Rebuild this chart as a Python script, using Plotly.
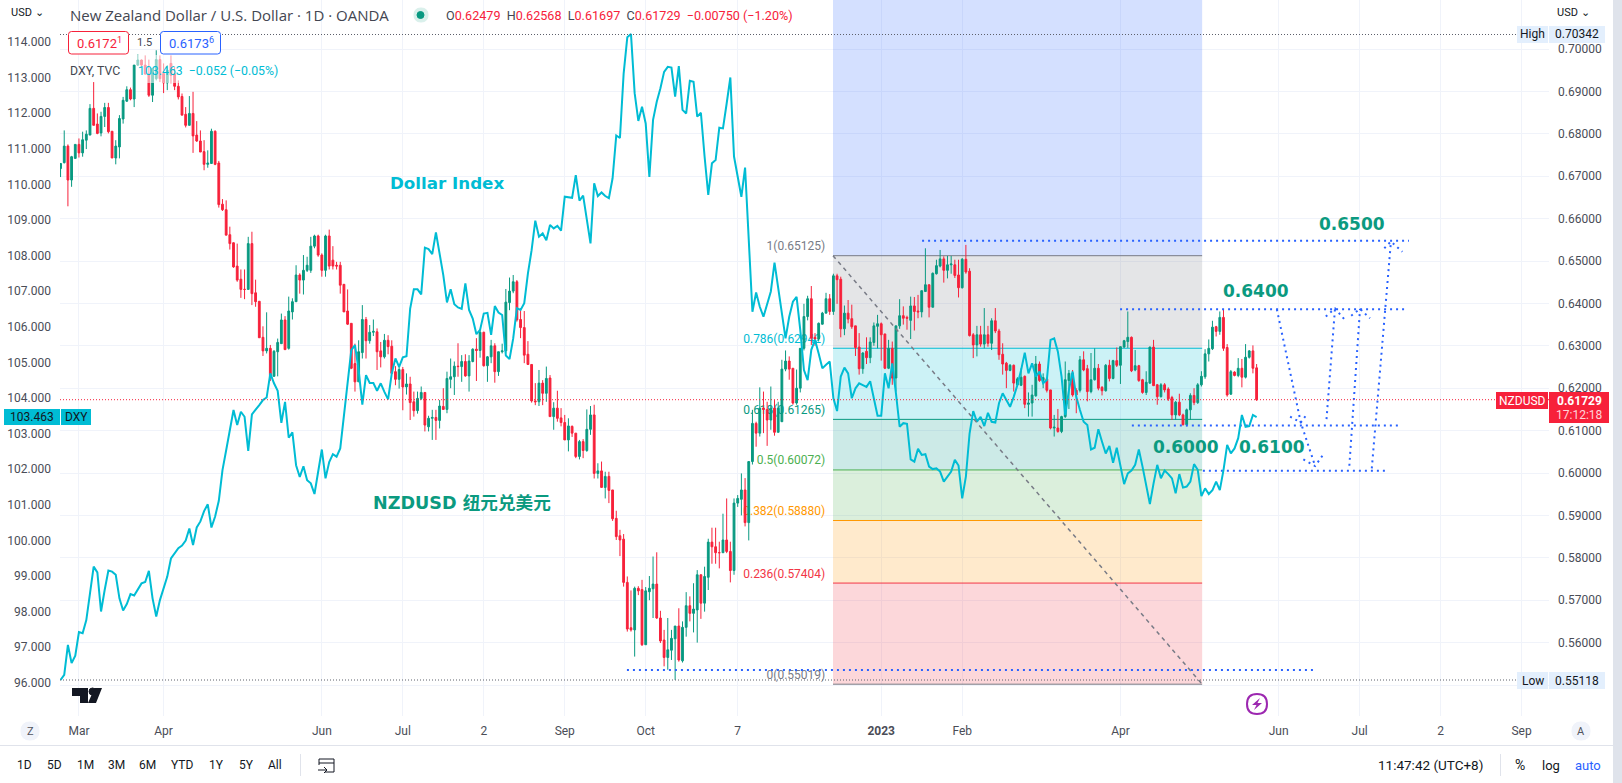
import plotly.graph_objects as go

# NZD/USD daily candles, in units of 0.0001
nzd_open = [
6718,6732,6771,6691,6742,6775,6755,6785,6797,6860, 6823,6802,6841,6862,6806,6743,6769,6835,6877,6904,
6882,6962,6974,6962,6941,6891,6930,6975,6942,6920, 6966,6941,6912,6888,6846,6820,6848,6797,6783,6758,
6728,6730,6806,6731,6634,6621,6562,6543,6488,6457, 6433,6433,6541,6425,6405,6320,6288,6294,6228,6286,
6305,6361,6294,6380,6404,6467,6455,6478,6478,6535, 6559,6514,6478,6559,6502,6490,6490,6445,6382,6353,
6258,6215,6284,6362,6312,6332,6333,6288,6274,6313, 6299,6239,6221,6244,6203,6210,6168,6147,6176,6190,
6109,6129,6131,6124,6157,6150,6221,6227,6252,6251, 6263,6229,6263,6292,6289,6332,6253,6274,6300,6239,
6286,6288,6402,6429,6451,6362,6343,6280,6256,6170, 6168,6212,6188,6224,6133,6153,6130,6119,6078,6110,
6094,6039,6074,6053,6103,6137,5999,6005,5966,5992, 5960,5893,5852,5844,5742,5635,5630,5728,5725,5595,
5720,5727,5738,5658,5606,5565,5582,5609,5639,5557, 5636,5687,5669,5677,5760,5693,5754,5837,5826,5812,
5812,5842,5815,5770,5929,5938,5960,5883,6027,6117, 6094,6153,6150,6125,6153,6096,6121,6245,6264,6247,
6165,6200,6294,6369,6411,6320,6316,6351,6377,6411, 6381,6465,6457,6340,6377,6364,6347,6297,6246,6287,
6272,6308,6346,6352,6328,6247,6294,6224,6347,6371, 6367,6360,6394,6382,6380,6428,6444,6391,6470,6488,
6505,6478,6491,6491,6467,6437,6504,6476,6326,6302, 6326,6304,6326,6306,6359,6335,6280,6259,6242,6254,
6208,6207,6228,6162,6165,6182,6257,6218,6222,6196, 6106,6106,6098,6133,6218,6235,6195,6195,6267,6246,
6192,6220,6247,6202,6194,6254,6223,6265,6254,6297, 6310,6320,6243,6253,6220,6190,6212,6297,6208,6180,
6208,6198,6178,6137,6167,6137,6114,6149,6183,6166, 6208,6227,6281,6293,6345,6334,6367,6296,6186,6238,
6230,6247,6226,6273,6288,6248]
nzd_high = [
6731,6808,6775,6748,6775,6789,6805,6808,6870,6922, 6848,6852,6873,6873,6806,6785,6844,6887,6912,6909,
6962,6987,6975,6985,6975,6954,6997,6985,6966,6962, 6985,6958,6926,6895,6863,6889,6899,6830,6808,6785,
6761,6812,6808,6736,6646,6643,6581,6544,6541,6480, 6480,6557,6569,6456,6405,6346,6379,6302,6290,6317,
6376,6370,6416,6412,6490,6471,6514,6510,6557,6562, 6562,6518,6562,6574,6535,6498,6498,6445,6433,6353,
6305,6313,6396,6368,6349,6362,6341,6309,6328,6325, 6313,6252,6252,6250,6235,6227,6192,6192,6204,6190,
6135,6149,6149,6172,6200,6239,6270,6263,6306,6278, 6280,6278,6294,6318,6340,6333,6276,6314,6306,6286,
6305,6434,6461,6467,6455,6382,6382,6311,6256,6212, 6243,6219,6251,6231,6167,6194,6153,6137,6129,6112,
6094,6078,6080,6150,6158,6161,6023,6027,6003,6003, 5960,5911,5866,5856,5756,5723,5732,5733,5748,5731,
5757,5803,5813,5675,5630,5658,5630,5639,5681,5650, 5719,5709,5740,5771,5760,5779,5845,5871,5871,5838,
5904,5940,5838,5940,5948,5999,5988,6027,6149,6121, 6202,6192,6168,6204,6172,6168,6267,6289,6275,6247,
6244,6294,6399,6418,6441,6330,6355,6380,6425,6422, 6470,6470,6463,6395,6408,6397,6347,6330,6285,6320,
6320,6355,6373,6355,6328,6314,6310,6347,6410,6393, 6371,6416,6415,6420,6430,6530,6444,6473,6503,6526,
6511,6512,6512,6503,6503,6507,6538,6483,6330,6347, 6347,6389,6347,6365,6389,6340,6306,6262,6257,6256,
6226,6247,6230,6190,6208,6276,6263,6235,6225,6196, 6137,6151,6135,6263,6243,6243,6200,6276,6287,6255,
6283,6294,6257,6205,6257,6267,6267,6296,6298,6314, 6381,6322,6290,6255,6222,6240,6298,6314,6210,6212,
6212,6202,6182,6170,6187,6140,6152,6188,6200,6212, 6240,6292,6315,6359,6347,6381,6385,6304,6243,6240,
6271,6269,6304,6290,6301,6257]
nzd_low = [
6698,6730,6629,6675,6742,6744,6746,6764,6797,6820, 6799,6794,6816,6801,6743,6728,6742,6824,6875,6879,
6863,6960,6958,6940,6887,6875,6926,6922,6896,6903, 6919,6903,6881,6844,6815,6820,6755,6781,6757,6714,
6720,6730,6726,6626,6618,6561,6527,6484,6451,6413, 6410,6433,6396,6392,6319,6276,6282,6217,6228,6228,
6305,6290,6291,6362,6404,6423,6421,6474,6472,6530, 6510,6463,6463,6480,6480,6480,6423,6380,6349,6245,
6192,6215,6270,6270,6305,6323,6243,6249,6270,6280, 6235,6207,6199,6148,6185,6125,6133,6140,6172,6098,
6098,6078,6078,6105,6149,6141,6200,6184,6227,6215, 6227,6192,6261,6217,6272,6251,6215,6259,6213,6229,
6282,6282,6384,6424,6357,6318,6259,6255,6166,6160, 6158,6160,6168,6133,6102,6121,6110,6078,6051,6085,
6035,6032,6035,6050,6090,5987,5987,5966,5940,5929, 5887,5842,5804,5732,5626,5626,5567,5712,5592,5595,
5700,5658,5656,5599,5544,5536,5559,5512,5555,5553, 5614,5650,5624,5600,5656,5673,5724,5786,5786,5775,
5812,5811,5742,5760,5920,5900,5874,5841,6020,6062, 6086,6094,6064,6102,6088,6096,6121,6240,6220,6161,
6161,6190,6289,6360,6302,6300,6310,6350,6377,6373, 6373,6399,6320,6325,6353,6340,6276,6232,6234,6257,
6259,6300,6294,6265,6245,6245,6208,6192,6340,6350, 6338,6316,6336,6365,6367,6428,6367,6391,6468,6485,
6449,6459,6470,6460,6414,6435,6470,6322,6271,6275, 6298,6294,6298,6290,6330,6267,6232,6200,6240,6192,
6205,6205,6153,6133,6133,6180,6215,6200,6190,6103, 6086,6095,6094,6130,6151,6180,6141,6190,6240,6169,
6188,6218,6195,6183,6192,6216,6221,6250,6210,6295, 6295,6238,6240,6215,6187,6184,6210,6205,6161,6178,
6190,6170,6125,6125,6134,6112,6110,6125,6160,6163, 6204,6222,6263,6290,6322,6326,6288,6180,6184,6228,
6226,6202,6223,6270,6235,6170]
nzd_close = [
6730,6771,6691,6746,6775,6755,6786,6799,6860,6820, 6801,6841,6862,6805,6743,6771,6836,6879,6904,6882,
6962,6974,6962,6941,6891,6954,6975,6930,6920,6950, 6938,6912,6887,6844,6820,6848,6795,6783,6757,6728,
6731,6806,6728,6633,6621,6561,6541,6486,6455,6433, 6433,6541,6423,6404,6319,6288,6294,6228,6287,6308,
6361,6291,6382,6404,6467,6455,6478,6490,6535,6559, 6514,6478,6559,6488,6488,6488,6443,6380,6351,6247,
6215,6286,6362,6312,6332,6334,6286,6274,6313,6298, 6235,6221,6244,6203,6210,6166,6147,6176,6190,6113,
6129,6131,6124,6158,6150,6223,6227,6252,6251,6263, 6229,6264,6292,6289,6332,6253,6274,6300,6239,6286,
6288,6403,6429,6451,6361,6343,6278,6256,6170,6168, 6212,6188,6223,6133,6153,6129,6119,6078,6111,6094,
6039,6074,6053,6103,6137,5999,6005,5966,5992,5959, 5892,5850,5842,5742,5632,5630,5728,5722,5595,5722,
5728,5738,5658,5604,5565,5583,5610,5639,5559,5636, 5687,5669,5679,5760,5693,5756,5837,5826,5812,5812,
5842,5815,5770,5929,5940,5960,5883,6027,6117,6094, 6153,6150,6125,6153,6096,6153,6245,6264,6245,6165,
6200,6294,6369,6411,6318,6316,6353,6377,6411,6381, 6465,6456,6340,6377,6363,6345,6296,6246,6283,6272,
6309,6347,6352,6326,6247,6294,6224,6347,6371,6365, 6365,6394,6381,6380,6430,6444,6391,6471,6489,6505,
6478,6491,6493,6466,6437,6504,6474,6324,6302,6326, 6304,6326,6306,6359,6335,6279,6257,6242,6254,6212,
6222,6226,6162,6165,6184,6257,6218,6225,6195,6106, 6108,6098,6133,6220,6235,6184,6184,6267,6243,6192,
6220,6247,6200,6194,6254,6223,6265,6254,6298,6312, 6320,6241,6253,6218,6190,6214,6297,6206,6180,6208,
6196,6175,6137,6167,6137,6114,6149,6183,6166,6208, 6228,6281,6294,6344,6334,6367,6294,6184,6239,6230,
6247,6226,6273,6288,6247,6173]
# Dollar index close
dxy_close = [
96.08,96.22,97.06,96.55,96.76,97.42,97.39,97.76,98.51,99.26, 99.10,98.0,98.61,99.15,99.12,99.03,98.37,98.03,98.21,98.49,
98.45,98.61,98.79,98.83,99.14,98.37,97.86,98.32,98.62,98.98, 99.49,99.64,99.78,99.85,99.99,100.33,99.87,100.36,100.53,100.82,
101.01,100.36,100.67,101.11,101.97,102.53,103.09,103.66,103.24,103.61, 103.47,102.51,103.54,103.66,103.80,103.94,104.01,104.69,104.41,104.20,
103.30,103.89,102.88,103.03,102.11,101.78,102.08,101.69,101.60,101.30, 101.88,102.55,101.74,102.20,102.42,102.35,102.58,103.47,104.31,105.34,
105.48,104.78,103.81,104.64,104.42,104.42,104.20,104.41,104.17,103.96, 104.69,105.11,104.87,105.14,105.17,106.51,107.05,107.05,106.91,108.22,
108.18,108.04,108.65,108.06,107.45,106.68,107.05,106.63,106.54,106.50, 107.22,106.47,106.23,105.79,105.91,106.37,106.39,105.77,106.58,106.40,
106.33,105.19,105.09,105.67,106.52,106.47,106.66,107.50,108.15,108.98, 108.53,108.62,108.43,108.86,108.76,108.83,108.70,109.65,109.63,109.62,
110.26,109.54,109.68,109.0,108.34,110.03,109.67,109.77,109.67,109.61, 110.17,111.37,111.30,113.10,114.13,114.22,112.56,111.78,112.18,111.71,
110.21,111.81,112.32,112.70,113.16,113.30,113.28,112.46,113.32,112.09, 111.99,112.91,112.88,111.90,112.01,110.78,109.70,110.59,110.68,111.59,
111.57,112.27,113.0,110.78,110.21,109.65,110.47,108.44,106.42,106.96, 106.56,106.28,106.66,106.99,107.80,107.11,106.28,105.67,106.28,106.70,
106.84,105.91,104.78,104.50,105.35,105.63,105.25,104.83,104.93,105.02, 103.99,103.63,104.60,104.85,104.69,103.99,104.27,104.41,104.36,104.31,
104.47,103.99,103.50,103.50,104.69,104.27,104.97,104.13,103.19,103.29, 103.27,102.27,102.21,102.57,102.40,102.42,102.07,102.0,102.02,101.93,
101.65,101.79,101.93,102.26,102.10,101.18,101.79,103.0,103.63,103.33, 103.47,103.21,103.58,103.33,103.31,103.85,104.13,103.94,103.75,104.03,
104.36,104.78,105.27,104.69,104.97,104.60,104.74,104.41,104.50,105.63, 105.67,105.30,104.60,103.52,104.22,104.74,104.03,103.66,103.33,103.24,
102.55,102.60,103.12,102.77,102.44,102.65,102.18,102.60,102.07,101.58, 101.88,101.96,102.12,102.55,102.07,101.51,101.02,101.60,102.12,101.74,
101.96,101.86,101.74,101.32,101.86,101.48,101.51,101.65,102.14,101.98, 101.24,101.46,101.30,101.41,101.65,101.41,101.97,102.68,102.44,102.58,
102.87,103.52,103.19,103.21,103.52,103.463]

x_tick_bars = [5,28,71,93,115,137,159,184,223,245,288,331,353,375,397]
x_tick_labels = ["Mar","Apr","Jun","Jul","2","Sep","Oct","7","<b>2023</b>","Feb","Apr","Jun","Jul","2","Sep"]
nzd_ticks = [0.55,0.56,0.57,0.58,0.59,0.60,0.61,0.62,0.63,0.64,0.65,0.66,0.67,0.68,0.69,0.70]
dxy_ticks = list(range(96,115))

fib_start, fib_end = 209.9, 310.2
fib_ratio = ["1","0.786","0.618","0.5","0.382","0.236","0"]
fib_price = [0.65125,0.62942,0.61265,0.60072,0.58880,0.57404,0.55019]
fib_color = ["#787b86","#00bcd4","#089981","#4caf50","#ff9800","#f23645","#787b86"]
fib_fill = ["rgba(120,123,134,0.2)","rgba(0,188,212,0.2)","rgba(0,150,136,0.2)","rgba(76,175,80,0.2)","rgba(255,152,0,0.2)","rgba(242,54,69,0.2)"]

# drawn levels: first bar, last bar, price
levels = [(234.1,366.4,0.65479),(287.9,365.3,0.6386),(291.1,363.4,0.6112),(310.4,360.7,0.60054),(153.9,340.3,0.55354)]
# drawn dotted arrows: polylines of (bar, price)
arrows = [
 [(330.5,0.6386),(337.0,0.6119),(340.9,0.60165)],
 [(334.1,0.6133),(337.0,0.6119),(338.6,0.6138)],
 [(337.7,0.6032),(340.9,0.60165),(342.9,0.6041)],
 [(344.0,0.6127),(346.3,0.6388)],[(343.8,0.6369),(346.3,0.6388),(348.8,0.6363)],
 [(350.2,0.6017),(353.1,0.6387)],[(350.7,0.6371),(353.1,0.6387),(355.8,0.6365)],
 [(356.3,0.6011),(361.5,0.6546)],[(359.7,0.6530),(361.5,0.6546),(364.6,0.6522)],
]
LAST, HIGH, LOW = 0.61729, 0.70342, 0.55118

W, H, L, R, B = 1622, 783, 60, 73, 67
PW, PH = W-L-R, H-B
px = lambda v: (v-L)/PW
py = lambda v: 1-v/PH
UI = "Roboto, 'Liberation Sans', sans-serif"
TXT = "#131722"
GREEN, RED = "#089981", "#f7213a"
TEAL_TEXT = "#0b9a80"
BAR_X = list(range(len(nzd_open)))
NZD_RANGE = [0.6-243/4240, 0.6+473/4240]
DXY_RANGE = [96-33.3/35.6, 96+682.7/35.6]

fig = go.Figure()
# text of the fib levels sits under the candles, on the hidden base axis
fig.add_trace(go.Scatter(
    x=[207.8]*7, y=[p+0.0006 for p in fib_price], mode="text", yaxis="y", hoverinfo="skip",
    text=[f"{r}({p:.5f})" for r,p in zip(fib_ratio,fib_price)],
    textposition="top left", textfont=dict(size=12,color=fib_color,family=UI)))
fig.add_trace(go.Candlestick(
    x=BAR_X, open=[v/1e4 for v in nzd_open], high=[v/1e4 for v in nzd_high],
    low=[v/1e4 for v in nzd_low], close=[v/1e4 for v in nzd_close], yaxis="y2",
    increasing=dict(line=dict(color=GREEN,width=1),fillcolor=GREEN),
    decreasing=dict(line=dict(color=RED,width=1),fillcolor=RED),
    whiskerwidth=0, hoverinfo="skip"))
fig.add_trace(go.Scatter(x=BAR_X, y=dxy_close, yaxis="y3", mode="lines",
    line=dict(color="#00bcd4",width=2), hoverinfo="skip"))
for seg in arrows:
    fig.add_trace(go.Scatter(x=[p[0] for p in seg], y=[p[1] for p in seg], yaxis="y2", mode="lines",
        line=dict(color="#2962ff",width=2,dash="2px,4px"), hoverinfo="skip"))
for x0,x1,p in levels:
    fig.add_trace(go.Scatter(x=[x0,x1], y=[p,p], yaxis="y2", mode="lines",
        line=dict(color="#2962ff",width=2,dash="2px,4px"), hoverinfo="skip"))

shapes, ann = [], []
def box(x0,y0,x1,y1,fill,line=None,above=True,w=1,rad=0):
    if rad:
        x0p,x1p,y0p,y1p=px(x0),px(x1),py(y0),py(y1)
        rx,ry=rad/PW,rad/PH
        path=(f"M{x0p+rx},{y0p} L{x1p-rx},{y0p} Q{x1p},{y0p} {x1p},{y0p-ry} L{x1p},{y1p+ry} Q{x1p},{y1p} {x1p-rx},{y1p} "
              f"L{x0p+rx},{y1p} Q{x0p},{y1p} {x0p},{y1p+ry} L{x0p},{y0p-ry} Q{x0p},{y0p} {x0p+rx},{y0p} Z")
        shapes.append(dict(type="path",xref="paper",yref="paper",path=path,fillcolor=fill,line=dict(color=line or fill,width=w),layer="above"))
        return
    shapes.append(dict(type="rect",xref="paper",yref="paper",x0=px(x0),x1=px(x1),y0=py(y0),y1=py(y1),
        fillcolor=fill,line=dict(color=line,width=w) if line else dict(width=0),layer="above" if above else "below"))
def text(s,x,y,size=12,color=TXT,anchor="center",family=UI):
    ann.append(dict(text=s,xref="paper",yref="paper",x=px(x),y=py(y),xanchor=anchor,yanchor="middle",
        showarrow=False,font=dict(size=size,color=color,family=family),borderpad=0))
def pathpx(points,fill=None,line=None,w=1,close=True):
    d="M"+" L".join(f"{px(a)},{py(b)}" for a,b in points)+(" Z" if close else "")
    shapes.append(dict(type="path",xref="paper",yref="paper",path=d,fillcolor=fill or "rgba(0,0,0,0)",
        line=dict(color=line,width=w) if line else dict(width=0),layer="above"))

# fib region
shapes.append(dict(type="rect",xref="x",yref="y",x0=fib_start,x1=fib_end,y0=fib_price[0],y1=NZD_RANGE[1],
    fillcolor="rgba(41,98,255,0.2)",line=dict(width=0),layer="between"))
for i,c in enumerate(fib_fill):
    shapes.append(dict(type="rect",xref="x",yref="y",x0=fib_start,x1=fib_end,y0=fib_price[i+1],y1=fib_price[i],
        fillcolor=c,line=dict(width=0),layer="between"))
for p,c in zip(fib_price,fib_color):
    shapes.append(dict(type="line",xref="x",yref="y",x0=fib_start,x1=fib_end,y0=p,y1=p,line=dict(color=c,width=1),layer="between"))
shapes.append(dict(type="line",xref="x",yref="y",x0=fib_start,x1=fib_end,y0=fib_price[0],y1=fib_price[-1],
    line=dict(color="#787b86",width=1.5,dash="4px,4px"),layer="above"))
# high, low and last-price lines
shapes.append(dict(type="line",xref="paper",yref="y",x0=0,x1=px(1517),y0=HIGH,y1=HIGH,line=dict(color="#5d606b",width=1,dash="1px,2px"),layer="above"))
shapes.append(dict(type="line",xref="paper",yref="y",x0=0,x1=px(1517),y0=LOW,y1=LOW,line=dict(color="#5d606b",width=1,dash="1px,2px"),layer="above"))
shapes.append(dict(type="line",xref="paper",yref="y",x0=0,x1=1,y0=LAST,y1=LAST,line=dict(color=RED,width=1,dash="1px,2px"),layer="above"))

# legend veil over candles
box(136,55,282,83,"rgba(255,255,255,0.55)")
text("New Zealand Dollar / U.S. Dollar · 1D · OANDA",69,15,size=15,color="#434651",anchor="left",family="'Open Sans', Roboto, sans-serif")
box(414,8,428,22,"#d9f0eb",rad=7)
box(417,11.5,424,18.5,GREEN,rad=3.5)
text("<span style='color:#434651'>O</span>0.62479  <span style='color:#434651'>H</span>0.62568  <span style='color:#434651'>L</span>0.61697  <span style='color:#434651'>C</span>0.61729  −0.00750 (−1.20%)",445,16,size=12.6,color=RED,anchor="left")
box(68.5,31.5,128.5,54,"#ffffff",line=RED,rad=3)
text("0.6172<sup>1</sup>",76,43,size=13,color=RED,anchor="left")
text("1.5",144,43,size=11,color="#434651")
box(160.5,31.5,220.5,54,"#ffffff",line="#2962ff",rad=3)
text("0.6173<sup>6</sup>",168,43,size=13,color="#2962ff",anchor="left")
text("DXY, TVC",69,71,size=12.3,color="#434651",anchor="left")
text("103.463  −0.052 (−0.05%)",137,71,size=12.3,color="#00bcd4",anchor="left")
text("USD ⌄",10,12,size=11,anchor="left")
text("USD ⌄",1556,12,size=11,anchor="left")

# chart notes
F = "DejaVu Sans"
for s,x,y in [("0.6500",1351.7,224),("0.6400",1255.8,290.7),("0.6100",1271.7,447),("0.6000",1185.8,446.7)]:
    text(f"<b>{s}</b>",x,y,size=17,color=TEAL_TEXT,family=F)
text("<b>Dollar Index</b>",446.5,183,size=16.7,color="#00bcd4",family=F)
text("<b>NZDUSD 纽元兑美元</b>",462,503,size=17.6,color=TEAL_TEXT,family=F+", 'Noto Sans CJK SC'")

# axis tags
box(4,409,60,425,"#00bcd4"); text("103.463",32,417,size=12)
box(61,409,91,425,"#00bcd4"); text("DXY",76,417,size=12)
box(1496,392,1548,409,RED); text("NZDUSD",1522,400.5,size=12,color="#ffffff")
box(1549,392,1609,423,RED); text("<b>0.61729</b>",1579,400.5,size=12,color="#ffffff"); text("17:12:18",1579,415,size=12,color="#ffd4d9")
box(1517,26,1548,43,"#e3effd"); text("High",1532.5,34.5,size=12)
box(1549,26,1605,43,"#e3effd"); text("0.70342",1577,34.5,size=12)
box(1517,672,1548,689,"#e3effd"); text("Low",1532.5,680.5,size=12)
box(1549,672,1605,689,"#e3effd"); text("0.55118",1577,680.5,size=12)

# tradingview mark
pathpx([(72,688),(88,688),(88,703),(80,703),(80,696),(72,696)],fill="#131722")
box(89,688,96,695,"#131722",rad=3.5)
pathpx([(94.5,688),(102,688),(96,703),(88,703)],fill="#131722")
# lightning badge
box(1247,694,1267,714,"rgba(0,0,0,0)",line="#9c27b0",w=2,rad=10)
pathpx([(1260,698),(1252,705),(1256.5,705),(1254,710),(1262,703),(1257.5,703)],fill="#9c27b0")
# axis corner buttons and lower bar
box(21,722,39,740,"#f0f3fa",rad=9); text("Z",30,731,size=11,color="#50535e")
box(1572,722,1590,740,"#f0f3fa",rad=9); text("A",1581,731,size=11,color="#50535e")
box(0,745,1613,746,"#e0e3eb")
box(1613,0,1622,783,"#dfe3eb")
for s,x in zip(["1D","5D","1M","3M","6M","YTD","1Y","5Y","All"],[24,54,85,116,147,182,216,246,275]):
    text(s,x,765,size=12)
box(300,754,301,776,"#e0e3eb"); box(1500,754,1501,776,"#e0e3eb")
pathpx([(319,759),(334,759),(334,772),(325,772)],line=TXT,close=False)
pathpx([(319,759),(319,765)],line=TXT,close=False); pathpx([(319,763),(334,763)],line=TXT,close=False)
pathpx([(318,770),(327,770)],line=TXT,close=False); pathpx([(324,767),(327,770),(324,773)],line=TXT,close=False)
text("11:47:42 (UTC+8)",1430,765,size=13.5)
text("%",1520,765,size=14); text("log",1551,765,size=13); text("auto",1588,765,size=13,color="#2962ff")

axis_font = dict(size=12,color="#4a4d57",family=UI)
fig.update_layout(
    width=W,height=H,margin=dict(l=L,r=R,t=0,b=B,pad=0),showlegend=False,
    paper_bgcolor="#ffffff",plot_bgcolor="#ffffff",dragmode=False,hovermode=False,
    xaxis=dict(range=[-0.15,404.45],rangeslider=dict(visible=False),tickmode="array",
        tickvals=x_tick_bars,ticktext=x_tick_labels,showgrid=True,gridcolor="#f0f3fa",gridwidth=1,
        zeroline=False,ticks="",tickfont=axis_font,showline=False,ticklabelstandoff=6),
    yaxis=dict(range=NZD_RANGE,tickmode="array",tickvals=nzd_ticks,showgrid=True,gridcolor="#f0f3fa",
        zeroline=False,showticklabels=False,ticks="",showline=False),
    yaxis2=dict(range=NZD_RANGE,overlaying="y",side="right",tickmode="array",tickvals=nzd_ticks,
        ticktext=[f"{v:.5f}" for v in nzd_ticks],showgrid=False,zeroline=False,ticks="",
        tickfont=axis_font,showline=False,ticklabelstandoff=8),
    yaxis3=dict(range=DXY_RANGE,overlaying="y",side="left",tickmode="array",tickvals=dxy_ticks,
        ticktext=[f"{v}.000" for v in dxy_ticks],showgrid=False,zeroline=False,ticks="",
        tickfont=axis_font,showline=False,ticklabelstandoff=8),
    shapes=shapes,annotations=ann)
fig.write_html("out.html",config=dict(displayModeBar=False,responsive=False),
    post_script="document.body.style.margin='0';document.body.style.overflow='hidden';")
